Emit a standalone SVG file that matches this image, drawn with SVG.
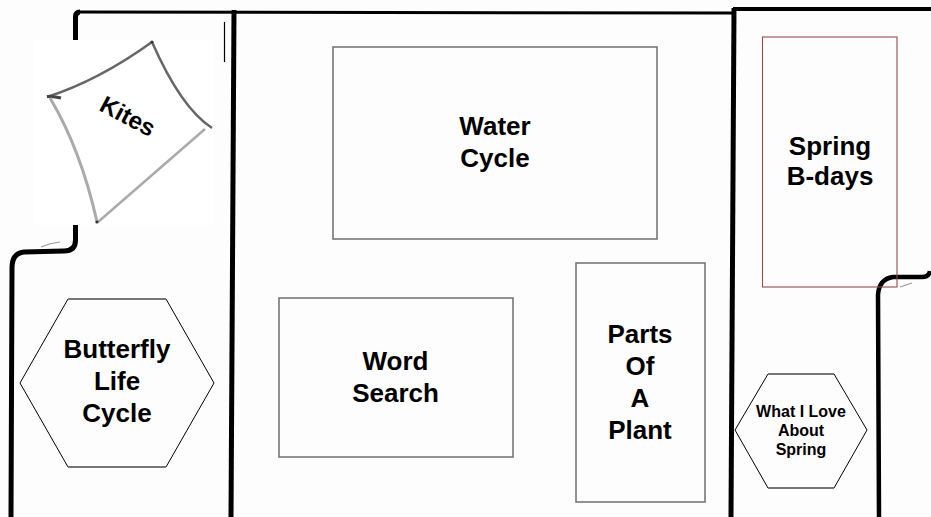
<svg xmlns="http://www.w3.org/2000/svg" width="931" height="517" viewBox="0 0 931 517">
<style>
.wall{fill:none;stroke:#000;stroke-linecap:butt;stroke-linejoin:round}
.box{fill:none;stroke:#777;stroke-width:1.6}
.hex{fill:none;stroke:#000;stroke-width:1}
.hexedge{stroke:#777;stroke-width:2}
.lbl{font-family:"Liberation Sans",Arial,sans-serif;font-weight:bold;fill:#000;text-anchor:middle}
.big{font-size:26px}
.small{font-size:16px}
</style>
<rect width="931" height="517" fill="#fdfdfd"/>
<g id="walls">
<path class="wall" stroke-width="5" d="M75.5,40 L75.5,17 Q75.5,12 80,12"/>
<path class="wall" stroke-width="3" d="M78,12 L733,13"/>
<path class="wall" stroke-width="4" d="M733,9 L931,9"/>
<path class="wall" stroke-width="5" d="M234,10 L231,517"/>
<path class="wall" stroke-width="5" d="M734,8 L731,517"/>
<path class="wall" stroke-width="1.2" d="M224.5,22 L224.5,62"/>
<path class="wall" stroke-width="5" d="M75.5,224 L75.5,240 Q75.5,251 64,251 L24,252 Q12,253 12,268 L11,517"/>
<path fill="none" stroke="#999" stroke-width="1.2" d="M41,247 Q50,243 60,242"/>
<path class="wall" stroke-width="4.5" d="M930,271 Q929,277 922,277 L893,277 Q879,279 878,295 L879,517"/>
<path fill="none" stroke="#999" stroke-width="1.2" d="M900,287 Q906,285 912,283"/>
</g>
<g id="kites">
<rect x="33" y="40" width="180" height="185" fill="#fff"/>
<path fill="none" stroke="#666" stroke-width="2.5" d="M47,97 Q98.5,80.5 152,42"/>
<path fill="none" stroke="#444" stroke-width="3" d="M47,96.5 Q54,96 61,98"/>
<path fill="none" stroke="#666" stroke-width="2.5" d="M152,42 Q181,108 212,128"/>
<path fill="none" stroke="#aaa" stroke-width="3" d="M50,98 Q81,150 97,222"/>
<path fill="none" stroke="#aaa" stroke-width="2.5" d="M98,222 L205,129"/>
<circle cx="152" cy="42" r="1.6" fill="#333"/>
<circle cx="97" cy="222" r="1.6" fill="#333"/>
<text class="lbl" font-size="24" transform="translate(128,116) rotate(28)" y="8.6">Kites</text>
</g>
<g id="water-cycle">
<rect class="box" x="333" y="47" width="324" height="192"/>
<text class="lbl big" x="495" y="135">Water</text>
<text class="lbl big" x="495" y="167">Cycle</text>
</g>
<g id="spring-bdays">
<rect x="762.5" y="37" width="134.5" height="250" fill="none" stroke="#9b4a4a" stroke-width="1.1"/>
<text class="lbl big" x="830" y="155">Spring</text>
<text class="lbl big" x="830" y="185">B-days</text>
</g>
<g id="butterfly">
<polygon class="hex" points="68,299 166,299 214,383 166,467 68,467 20,383"/>
<line class="hexedge" x1="68" y1="299" x2="166" y2="299"/>
<line class="hexedge" x1="68" y1="467" x2="166" y2="467"/>
<text class="lbl big" x="117" y="358">Butterfly</text>
<text class="lbl big" x="117" y="390">Life</text>
<text class="lbl big" x="117" y="422">Cycle</text>
</g>
<g id="word-search">
<rect class="box" x="279" y="298" width="234" height="159"/>
<text class="lbl big" x="395.5" y="370">Word</text>
<text class="lbl big" x="395.5" y="402">Search</text>
</g>
<g id="parts-of-a-plant">
<rect class="box" x="576" y="263" width="129" height="239"/>
<text class="lbl big" x="640" y="343">Parts</text>
<text class="lbl big" x="640" y="375">Of</text>
<text class="lbl big" x="640" y="407">A</text>
<text class="lbl big" x="640" y="439">Plant</text>
</g>
<g id="what-i-love">
<polygon class="hex" points="768,374 834,374 867,430 834,488 768,488 735,430"/>
<line class="hexedge" x1="768" y1="374" x2="834" y2="374"/>
<line class="hexedge" x1="768" y1="488" x2="834" y2="488"/>
<text class="lbl small" x="801" y="417">What I Love</text>
<text class="lbl small" x="801" y="436">About</text>
<text class="lbl small" x="801" y="455">Spring</text>
</g>
<g id="connectors"/>
</svg>
